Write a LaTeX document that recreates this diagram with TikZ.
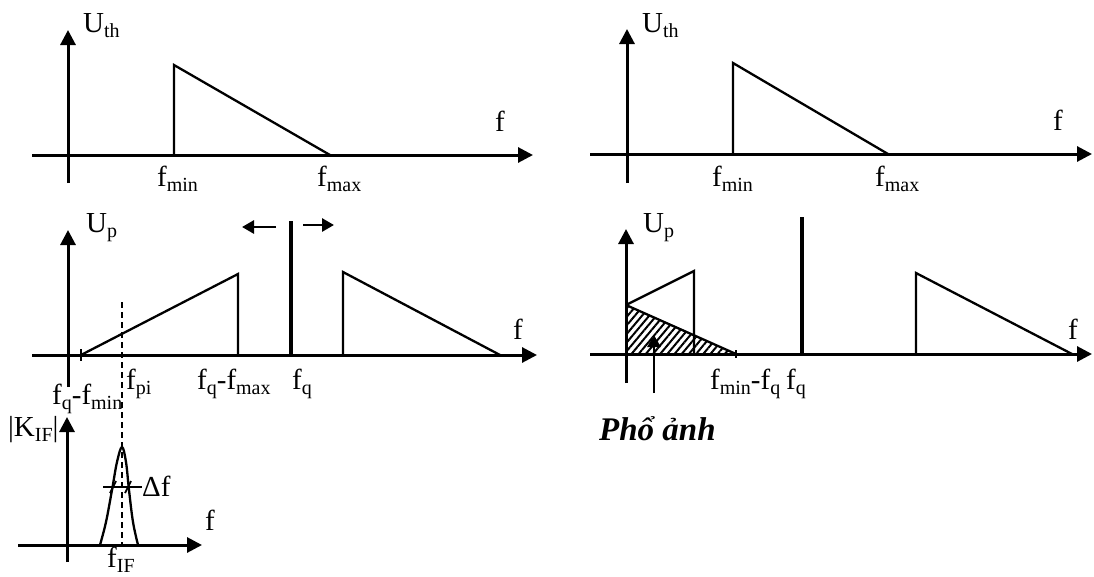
\documentclass[tikz,border=0pt]{standalone}
\usepackage{fontspec}
\setmainfont{Liberation Serif}
\usetikzlibrary{arrows.meta,patterns.meta}
\newcommand\sbs[1]{\raisebox{-5pt}{\fontsize{20pt}{20pt}\selectfont #1}}
\begin{document}
\begin{tikzpicture}[x=1pt,y=-1pt,
  axis/.style={line width=3pt,-{Triangle[length=15pt,width=15pt]}},
  sig/.style={line width=2.3pt,line join=miter},
  carrier/.style={line width=4.2pt},
  smallarrow/.style={line width=2.8pt,-{Triangle[length=12pt,width=13pt]}},
  tick/.style={line width=1.8pt},
  lbl/.style={anchor=base west,inner sep=0pt,font=\fontsize{29pt}{29pt}\selectfont},
  hatch/.style={pattern={Lines[angle=50,distance=5.5pt,line width=2pt]}}
]
\useasboundingbox (0,0) rectangle (1094,576);

% ---------- panel 1 (top left) ----------
\draw[axis] (68,183) -- (68,30);
\draw[axis] (32,155) -- (533,155);
\draw[sig] (174,155) -- (174,65) -- (330,155);
\node[lbl] (uth1) at (83,32) {U\sbs{th}};
\node[lbl] (f1) at (495,131) {f};
\node[lbl] (fmin1) at (157,186) {f\sbs{min}};
\node[lbl] (fmax1) at (317,186) {f\sbs{max}};

% ---------- panel 2 (top right) ----------
\draw[axis] (627,183) -- (627,29);
\draw[axis] (590,154) -- (1092,154);
\draw[sig] (733,154) -- (733,63) -- (888,154);
\node[lbl] (uth2) at (642,32) {U\sbs{th}};
\node[lbl] (f2) at (1053,130) {f};
\node[lbl] (fmin2) at (712,186) {f\sbs{min}};
\node[lbl] (fmax2) at (875,186) {f\sbs{max}};

% ---------- panel 3 (middle left) ----------
\draw[axis] (68,387) -- (68,230);
\draw[axis] (32,355) -- (537,355);
\draw[tick] (81,349) -- (81,361);
\draw[sig] (81,355) -- (238,274) -- (238,355);
\draw[sig] (343,355) -- (343,272) -- (500,355);
\draw[carrier] (291,355) -- (291,221);
\draw[smallarrow] (276,227) -- (242,227);
\draw[smallarrow] (303,225) -- (334,225);
\node[lbl] (up3) at (86,232) {U\sbs{p}};
\node[lbl] (f3) at (513,339) {f};
\node[lbl] (fpi) at (126,389) {f\sbs{pi}};
\node[lbl] (fqfmax) at (197,389) {f\sbs{q}-f\sbs{max}};
\node[lbl] (fq3) at (292,389) {f\sbs{q}};
\node[lbl] (fqfmin) at (52,404) {f\sbs{q}-f\sbs{min}};

% ---------- panel 4 (middle right) ----------
\fill[hatch] (626,354) -- (626,305) -- (736,354) -- cycle;
\draw[sig] (626,305) -- (736,354);
\draw[sig] (626,305) -- (694,271) -- (694,354);
\draw[axis] (626,383) -- (626,229);
\draw[axis] (590,354) -- (1092,354);
\draw[tick] (736,350) -- (736,358);
\draw[smallarrow] (654,393) -- (654,335);
\draw[carrier] (802,354) -- (802,217);
\draw[sig] (916,354) -- (916,273) -- (1072,354);
\node[lbl] (up4) at (643,232) {U\sbs{p}};
\node[lbl] (f4) at (1068,339) {f};
\node[lbl] (fminfq) at (710,389) {f\sbs{min}-f\sbs{q}};
\node[lbl] (fq4) at (786,389) {f\sbs{q}};
\node[lbl,font=\fontsize{33pt}{33pt}\selectfont\bfseries\itshape] (pho) at (599,440) {Phổ ảnh};

% ---------- panel 5 (bottom left) ----------
\draw[axis] (67,562) -- (67,417);
\draw[axis] (18,545) -- (202,545);
\draw[sig] plot[smooth,tension=0.6] coordinates {(100,545) (106,522) (112,490) (117,462) (122,447) (126,462) (129,490) (133,522) (138,545)};
\draw[sig] (103,487) -- (142,487);
\draw[tick] (110,493) -- (116,481);
\draw[tick] (125,493) -- (131,481);
\draw[line width=1.6pt,dash pattern=on 6pt off 4pt] (122,302) -- (122,545);
\node[lbl] (kif) at (8,436) {|K\sbs{IF}|};
\node[lbl] (df) at (142,496) {Δf};
\node[lbl] (f5) at (205,530) {f};
\node[lbl] (fif) at (107,567) {f\sbs{IF}};
\end{tikzpicture}
\end{document}
